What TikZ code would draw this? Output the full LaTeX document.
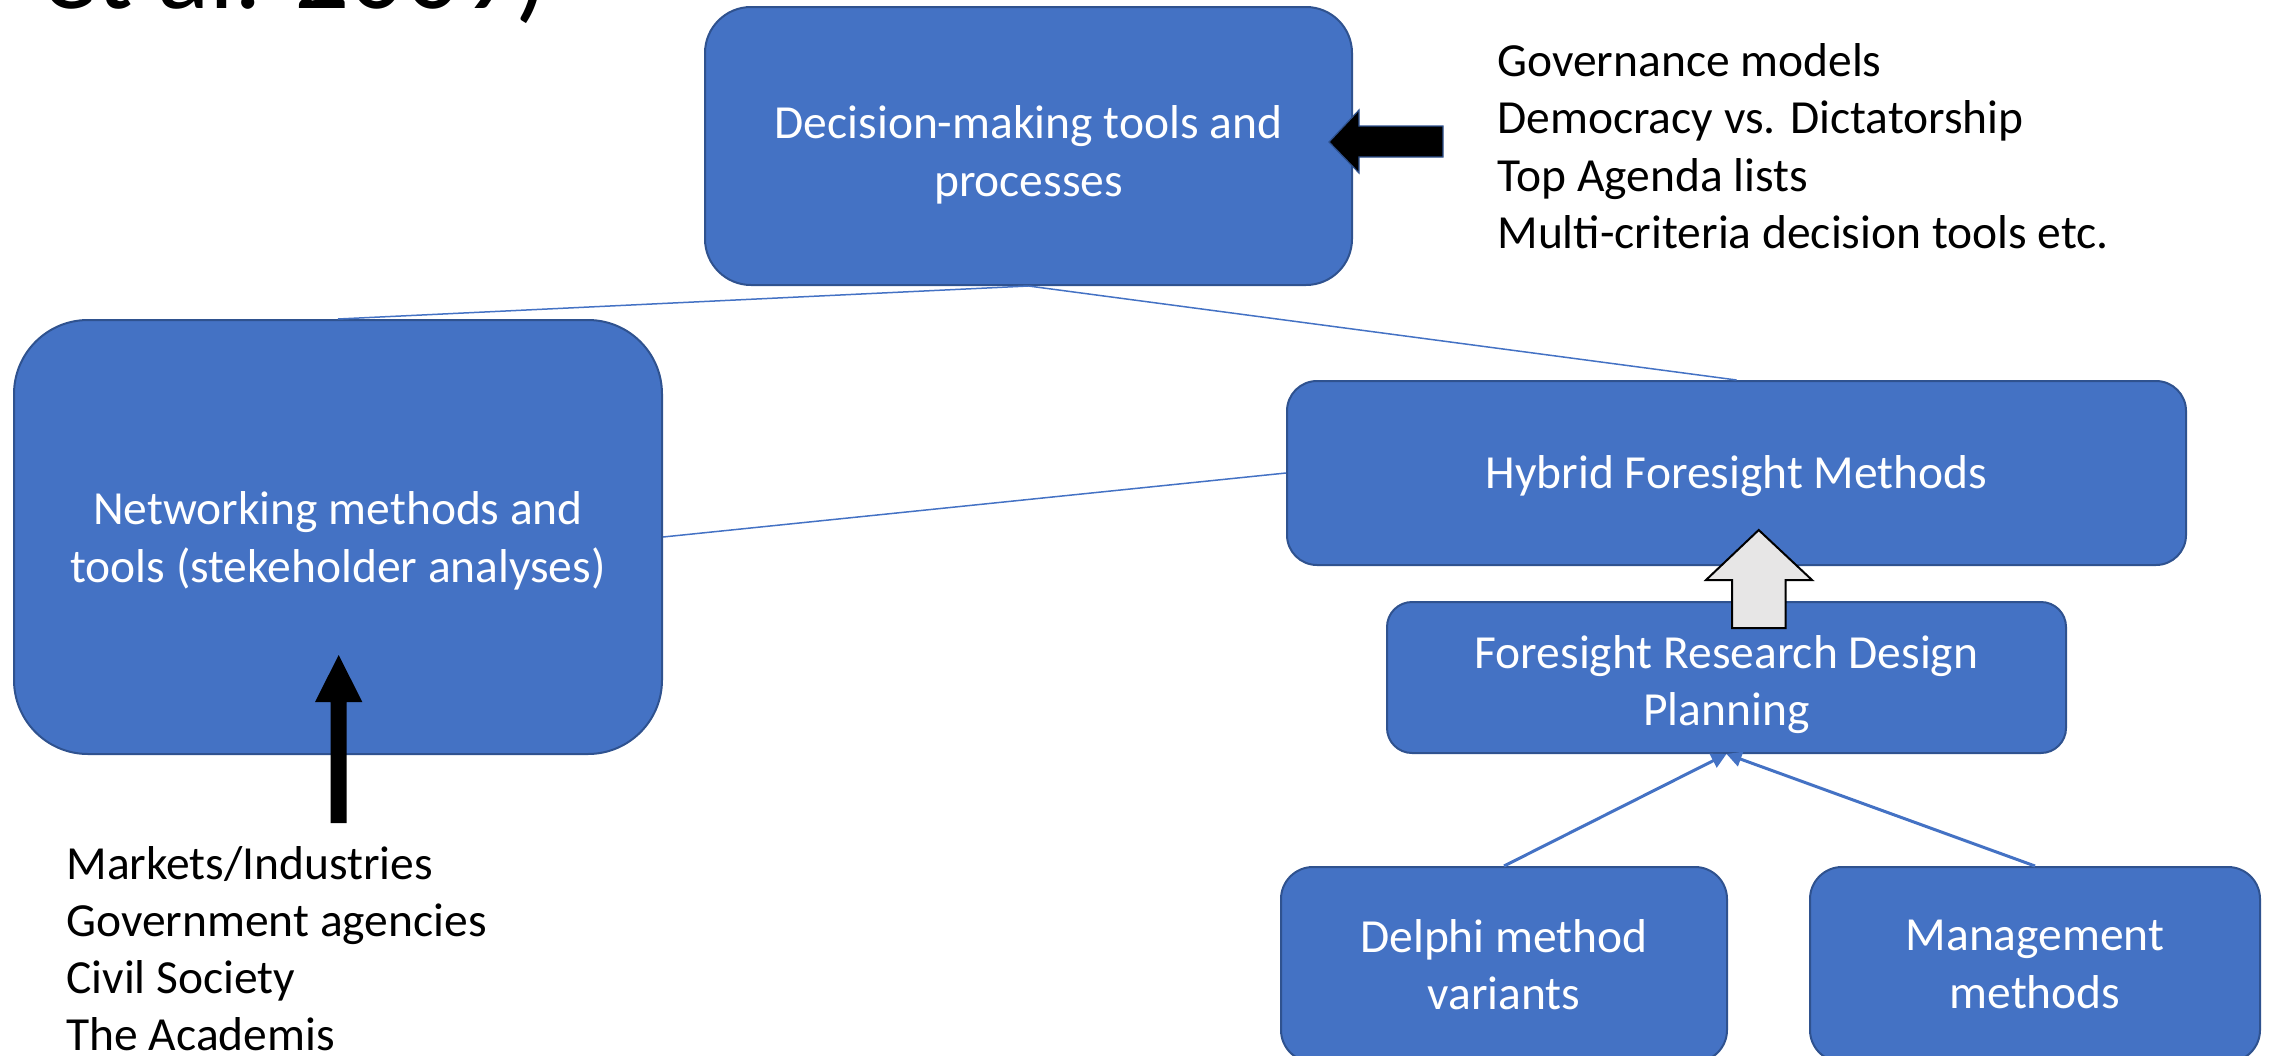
\documentclass[tikz,border=0pt]{standalone}
\usepackage{fontspec}
\setmainfont{Carlito}
\usetikzlibrary{arrows.meta}
\definecolor{boxblue}{HTML}{4472C4}
\definecolor{boxedge}{HTML}{2F528F}
\definecolor{arrgray}{HTML}{E7E6E6}
\newcommand\bfs{\fontsize{23.75pt}{28.75pt}\selectfont}
\newcommand\ttlfs{\fontsize{54.5pt}{60pt}\selectfont}
\begin{document}
\begin{tikzpicture}[x=0.5pt,y=-0.5pt,
  boxnode/.style={draw=boxedge, line width=1pt, fill=boxblue, inner sep=0pt},
  boxlabel/.style={text=white, align=center, inner sep=0pt, font=\bfs},
  link/.style={draw=boxblue, line width=0.75pt},
  feed/.style={draw=boxblue, line width=1.5pt, -{Triangle[length=7.5pt,width=7.5pt]}},
  listtext/.style={anchor=base west, inner sep=0pt, font=\bfs, text=black},
  blockarrow/.style={fill=black, draw=boxedge, line width=0.6pt},
  grayarrow/.style={fill=arrgray, draw=black, line width=1pt}]
\useasboundingbox (0,0) rectangle (2270,1055);

% cut-off title fragment
\node[anchor=base west, inner sep=0pt, font=\ttlfs] (ttl) at (42,8) {et al. 2009)};

% boxes
\node[boxnode, minimum width=323.5pt, minimum height=139pt, rounded corners=23pt,
  label={[boxlabel, yshift=-4.5pt]center:{Decision-making tools and\\processes}}] (dec) at (1028.5,146) {};
\node[boxnode, minimum width=324pt, minimum height=217pt, rounded corners=37pt,
  label={[boxlabel, yshift=-2pt]center:{Networking methods and\\tools (stekeholder analyses)}}] (net) at (338,537) {};
\node[boxnode, minimum width=449.5pt, minimum height=92pt, rounded corners=15pt,
  label={[boxlabel, yshift=-1.5pt]center:{Hybrid Foresight Methods}}] (hyb) at (1736.5,473) {};
\node[boxnode, minimum width=339.5pt, minimum height=75.5pt, rounded corners=12.5pt,
  label={[boxlabel, yshift=-3.5pt]center:{Foresight Research Design\\Planning}}] (frd) at (1726.5,677.5) {};
\node[boxnode, minimum width=223pt, minimum height=97.5pt, rounded corners=16pt,
  label={[boxlabel]center:{Delphi method\\variants}}] (del) at (1504,964.5) {};
\node[boxnode, minimum width=225pt, minimum height=97.5pt, rounded corners=16pt,
  label={[boxlabel]center:{Management\\methods}}] (man) at (2035,964.5) {};

% connectors
\draw[link] (dec.south) -- (net.north);
\draw[link] (dec.south) -- (hyb.north);
\draw[link] (net.east) -- (hyb.west);
\draw[feed] (del.north) -- (frd.south);
\draw[feed] (man.north) -- (frd.south);

% block arrows
\draw[blockarrow] (1329,142) -- (1359,110) -- (1359,126) -- (1443,126) -- (1443,157) -- (1359,157) -- (1359,173) -- cycle;
\fill[black] (338.7,655) -- (362.3,702) -- (346.7,702) -- (346.7,823) -- (330.7,823) -- (330.7,702) -- (315,702) -- cycle;
\draw[grayarrow] (1758.7,530) -- (1812,580) -- (1785.7,580) -- (1785.7,628) -- (1732,628) -- (1732,580) -- (1706,580) -- cycle;

% lists
\node[listtext] (r1) at (1497,76) {Governance models};
\node[listtext] (r2) at (1497,133.5) {Democracy vs. Dictatorship};
\node[listtext] (r3) at (1497,191) {Top Agenda lists};
\node[listtext] (r4) at (1497,248.5) {Multi-criteria decision tools etc.};

\node[listtext] (l1) at (66,879) {Markets/Industries};
\node[listtext] (l2) at (66,936) {Government agencies};
\node[listtext] (l3) at (66,993) {Civil Society};
\node[listtext] (l4) at (66,1050) {The Academis};
\end{tikzpicture}
\end{document}
